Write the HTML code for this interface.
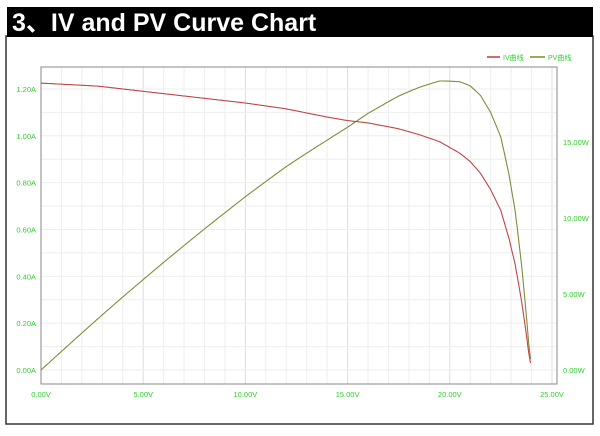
<!DOCTYPE html><html><head><style>
body{margin:0;background:#fff;width:600px;height:431px;overflow:hidden;font-family:"Liberation Sans",sans-serif}
</style></head><body>
<svg id="s" width="600" height="431" xmlns="http://www.w3.org/2000/svg" font-family="Liberation Sans, Noto Sans CJK SC, sans-serif">
<rect x="6" y="36" width="587" height="388" fill="#fff" stroke="#333" stroke-width="1.5"/>
<rect x="7" y="7" width="586" height="30" fill="#000"/>
<text x="12" y="31" fill="#fff" font-size="25" font-weight="bold">3、IV and PV Curve Chart</text>
<g id="grid"></g>
<rect x="41" y="67" width="516" height="317" fill="none" stroke="#888" stroke-width="1"/>
<line x1="487" y1="57" x2="500" y2="57" stroke="#c0393b" stroke-width="1.5"/>
<text x="503" y="60" font-size="7" fill="#3c3">IV曲线</text>
<line x1="530" y1="57" x2="545" y2="57" stroke="#7a8a2a" stroke-width="1.5"/>
<text x="548" y="60" font-size="7" fill="#3c3">PV曲线</text>
<g id="lab" font-size="7.5" fill="#3c3"></g>
<path id="pv" fill="none" stroke="#7f8c3a" stroke-width="1.1"/>
<path id="iv" fill="none" stroke="#c04545" stroke-width="1.1"/>
</svg>
<script>
var ns="http://www.w3.org/2000/svg",g=document.getElementById('grid'),lab=document.getElementById('lab');
function X(v){return 41+v*20.44}function YA(a){return 370-a*234.2}function YW(w){return 370-w*15.2}
function el(p,t,a,txt){var e=document.createElementNS(ns,t);for(var k in a)e.setAttribute(k,a[k]);if(txt)e.textContent=txt;p.appendChild(e);}
for(var v=1;v<26;v++){var x=X(v);if(x<557)el(g,'line',{x1:x,y1:67,x2:x,y2:384,stroke:v%5?'#eee':'#ddd'});}
for(var a=0;a<=1.3;a+=0.1){var y=YA(a);if(y>67)el(g,'line',{x1:41,y1:y,x2:557,y2:y,stroke:'#eee'});}
for(var i=0;i<=6;i++){el(lab,'text',{x:36,y:YA(i*0.2)+3,'text-anchor':'end'},(i*0.2).toFixed(2)+'A');}
for(var i=0;i<=3;i++){el(lab,'text',{x:563,y:YW(i*5)+3},(i*5).toFixed(2)+'W');}
for(var i=0;i<=5;i++){el(lab,'text',{x:X(i*5),y:397,'text-anchor':'middle'},(i*5).toFixed(2)+'V');}
var k=[[0,1.225],[2.8,1.212],[5,1.19],[7.5,1.165],[10,1.14],[12,1.115],[14,1.08],[15,1.065],[16,1.055],[17.5,1.03],[18.5,1.005],[19.5,0.975],[20.5,0.925],[21,0.89],[21.5,0.84],[22,0.77],[22.5,0.68],[22.9,0.56],[23.2,0.45],[23.5,0.3],[23.7,0.18],[23.85,0.08],[23.95,0.03],[24,0.0]];
function I(v){for(var j=1;j<k.length;j++)if(v<=k[j][0]){var t=(v-k[j-1][0])/(k[j][0]-k[j-1][0]);return k[j-1][1]+t*(k[j][1]-k[j-1][1]);}return 0;}
var di='',dp='';for(var v=0;v<=24;v+=0.05){var c=I(v);di+=(v?'L':'M')+X(v).toFixed(1)+' '+YA(c).toFixed(1);dp+=(v?'L':'M')+X(v).toFixed(1)+' '+YW(v*c).toFixed(1);}
document.getElementById('iv').setAttribute('d',di);document.getElementById('pv').setAttribute('d',dp);
</script>
</body></html>
